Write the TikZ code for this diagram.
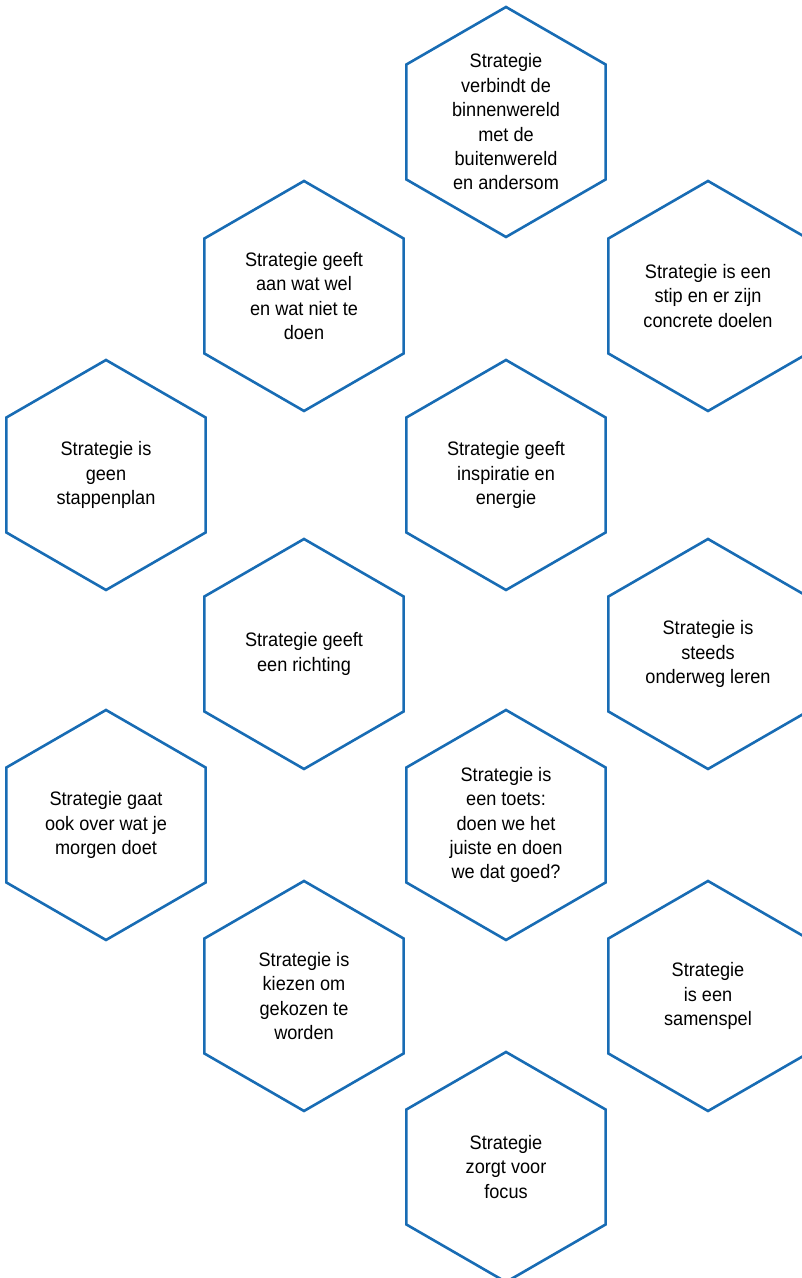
\documentclass[tikz,border=0pt]{standalone}
\usepackage{fontspec}
\setmainfont{Liberation Sans}[FakeStretch=0.93]
\usepackage{tikz}
\usetikzlibrary{positioning,shapes.geometric}
\definecolor{hexblue}{RGB}{24,108,180}

\begin{document}
\begin{tikzpicture}[
  x=1pt, y=1pt,
  on grid,
  hexa/.style={draw=hexblue,line width=2.6pt,regular polygon,regular polygon sides=6,
    shape border rotate=30,minimum size=230pt,inner sep=0pt,align=center,
    font=\fontsize{19.5pt}{24.4pt}\selectfont}
]
\useasboundingbox (0,0) rectangle (802,1278);
\clip (0,0) rectangle (802,1278);
\node[hexa] (h1) at (506,1156) {Strategie\\verbindt de\\binnenwereld\\met de\\buitenwereld\\en andersom};
\node[hexa, below left=174pt and 202pt of h1] (h2) {Strategie geeft\\aan wat wel\\en wat niet te\\doen};
\node[hexa, below right=174pt and 202pt of h1] (h3) {Strategie is een\\stip en er zijn\\concrete doelen};
\node[hexa, below right=179pt and 202pt of h2] (h5) {Strategie geeft\\inspiratie en\\energie};
\node[hexa, below left=179pt and 198pt of h2] (h4) {Strategie is\\geen\\stappenplan};
\node[hexa, below left=179pt and 202pt of h5] (h6) {Strategie geeft\\een richting};
\node[hexa, below right=179pt and 202pt of h5] (h7) {Strategie is\\steeds\\onderweg leren};
\node[hexa, below right=171pt and 202pt of h6] (h9) {Strategie is\\een toets:\\doen we het\\juiste en doen\\we dat goed?};
\node[hexa, below left=171pt and 198pt of h6] (h8) {Strategie gaat\\ook over wat je\\morgen doet};
\node[hexa, below left=171pt and 202pt of h9] (h10) {Strategie is\\kiezen om\\gekozen te\\worden};
\node[hexa, below right=171pt and 202pt of h9] (h11) {Strategie\\is een\\samenspel};
\node[hexa, below right=171pt and 202pt of h10] (h12) {Strategie\\zorgt voor\\focus};
\end{tikzpicture}
\end{document}
